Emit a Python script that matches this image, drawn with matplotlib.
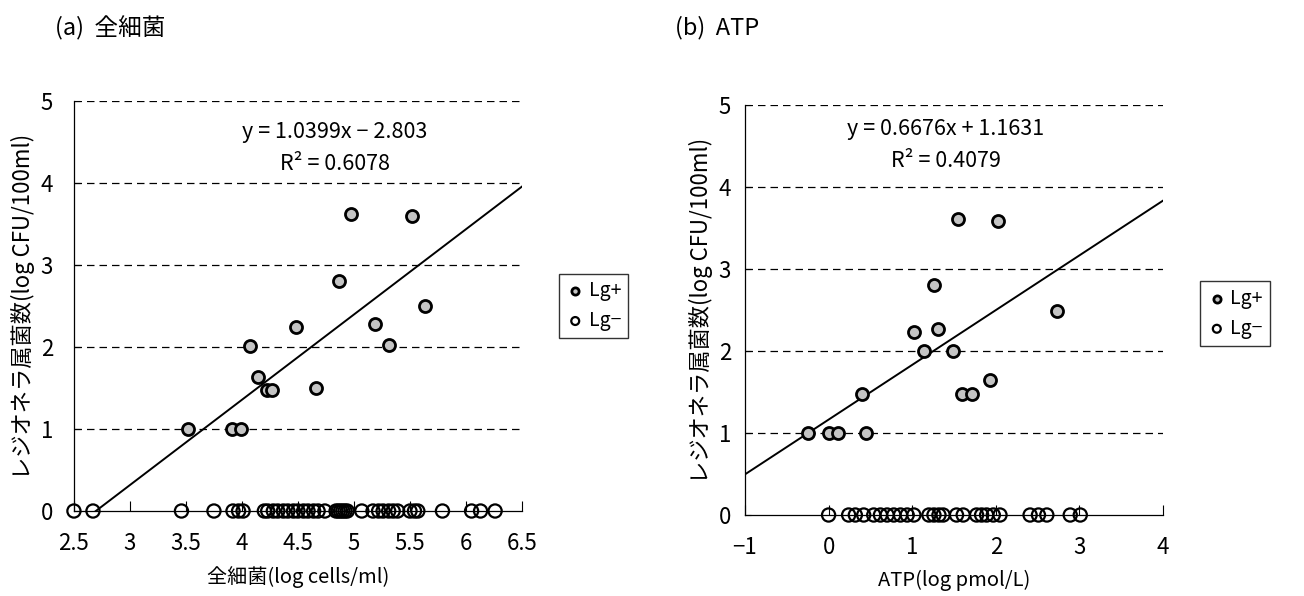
import matplotlib
matplotlib.use("Agg")
import matplotlib.pyplot as plt
import numpy as np

plt.rcParams['font.family'] = ['Noto Sans CJK JP', 'DejaVu Sans']

# (a) total bacteria
a_pos_x = [4.97, 5.52, 4.87, 4.48, 5.63, 5.19, 4.07, 5.31, 4.14, 4.22, 4.27, 4.66, 3.52, 3.91, 3.99]
a_pos_y = [3.62, 3.60, 2.81, 2.24, 2.50, 2.28, 2.01, 2.02, 1.63, 1.48, 1.48, 1.50, 1.00, 1.00, 1.00]
a_neg_x = [2.50, 2.67, 3.46, 3.75, 3.92, 3.97, 4.01, 4.20, 4.23, 4.28, 4.32, 4.37, 4.41,
           4.46, 4.50, 4.55, 4.59, 4.64, 4.68, 4.74, 4.84, 4.86, 4.88, 4.90, 4.92, 4.94,
           5.07, 5.17, 5.22, 5.26, 5.31, 5.35, 5.39, 5.50, 5.54, 5.57, 5.79, 6.05, 6.13, 6.26]
a_slope, a_icpt = 1.0399, -2.803
a_eq = "y = 1.0399x − 2.803"
a_r2 = "R² = 0.6078"

# (b) ATP
b_pos_x = [1.55, 2.03, 1.26, 2.73, 1.02, 1.31, 1.14, 1.49, 1.93, 0.40, 1.59, 1.71, -0.25, 0.00, 0.11, 0.45]
b_pos_y = [3.61, 3.59, 2.80, 2.49, 2.23, 2.27, 2.00, 2.00, 1.65, 1.48, 1.48, 1.48, 1.00, 1.00, 1.00, 1.00]
b_neg_x = [0.00, 0.24, 0.32, 0.42, 0.54, 0.62, 0.70, 0.78, 0.86, 0.94, 1.02, 1.20, 1.26,
           1.32, 1.37, 1.53, 1.61, 1.77, 1.83, 1.89, 1.97, 2.05, 2.41, 2.51, 2.61, 2.89, 3.01]
b_slope, b_icpt = 0.6676, 1.1631
b_eq = "y = 0.6676x + 1.1631"
b_r2 = "R² = 0.4079"

ylabel = "レジオネラ属菌数(log CFU/100ml)"

fig = plt.figure(figsize=(13.04, 5.96), dpi=100)
ax1 = fig.add_axes([0.0567, 0.1426, 0.3436, 0.688])
ax2 = fig.add_axes([0.5713, 0.1359, 0.3206, 0.688])


def setup(ax, xmin, xmax, xticks, xt_labels, pos_x, pos_y, neg_x, slope, icpt,
          eq, r2, xlabel, ypad, eq_x, eq_y):
    ax.set_xlim(xmin, xmax)
    ax.set_ylim(0, 5)
    for y in range(1, 6):
        ax.axhline(y, color='black', lw=0.9, ls=(0, (6, 4)), zorder=1)
    xs = np.array([xmin, xmax])
    ax.plot(xs, slope * xs + icpt, color='black', lw=1.4, zorder=2)
    ax.scatter(neg_x, [0] * len(neg_x), s=90, facecolors='none',
               edgecolors='black', linewidths=1.6, zorder=3, clip_on=False, label="Lg−")
    ax.scatter(pos_x, pos_y, s=75, facecolors='#c4c4c4',
               edgecolors='black', linewidths=2.0, zorder=4, clip_on=False, label="Lg+")
    for s in ['top', 'right']:
        ax.spines[s].set_visible(False)
    ax.spines['left'].set_linewidth(0.9)
    ax.spines['bottom'].set_linewidth(0.9)
    ax.set_xticks(xticks)
    ax.set_xticklabels(xt_labels)
    ax.set_yticks(range(0, 6))
    ax.tick_params(axis='x', direction='in', length=7, pad=15, labelsize=16)
    ax.tick_params(axis='y', direction='in', length=4, pad=ypad, labelsize=16)
    ax.set_xlabel(xlabel, fontsize=14.5, labelpad=8)
    ax.set_ylabel(ylabel, fontsize=16, labelpad=4)
    ax.text(eq_x, eq_y, eq, ha='center', va='center', fontsize=15.5)
    ax.text(eq_x, eq_y - 0.39, r2, ha='center', va='center', fontsize=15.5)
    handles, labels = ax.get_legend_handles_labels()
    return handles[::-1], labels[::-1]


h, l = setup(ax1, 2.5, 6.5, [2.5, 3, 3.5, 4, 4.5, 5, 5.5, 6, 6.5],
             ["2.5", "3", "3.5", "4", "4.5", "5", "5.5", "6", "6.5"],
             a_pos_x, a_pos_y, a_neg_x, a_slope, a_icpt, a_eq, a_r2,
             "全細菌(log cells/ml)", 15, 4.83, 4.62)
fig.legend(h, l, loc='center left', bbox_to_anchor=(0.421, 0.487), fontsize=14,
           frameon=True, fancybox=False, edgecolor='black', markerscale=0.6,
           handletextpad=0.2, borderpad=0.35, labelspacing=0.45, handlelength=1.0)

h, l = setup(ax2, -1, 4, [-1, 0, 1, 2, 3, 4],
             ["−1", "0", "1", "2", "3", "4"],
             b_pos_x, b_pos_y, b_neg_x, b_slope, b_icpt, b_eq, b_r2,
             "ATP(log pmol/L)", 10, 1.40, 4.71)
fig.legend(h, l, loc='center left', bbox_to_anchor=(0.913, 0.474), fontsize=14,
           frameon=True, fancybox=False, edgecolor='black', markerscale=0.6,
           handletextpad=0.2, borderpad=0.35, labelspacing=0.45, handlelength=1.0)

fig.text(0.042, 0.953, "(a)  全細菌", fontsize=17, va='center')
fig.text(0.518, 0.953, "(b)  ATP", fontsize=17, va='center')

fig.savefig("out.png", dpi=100)
